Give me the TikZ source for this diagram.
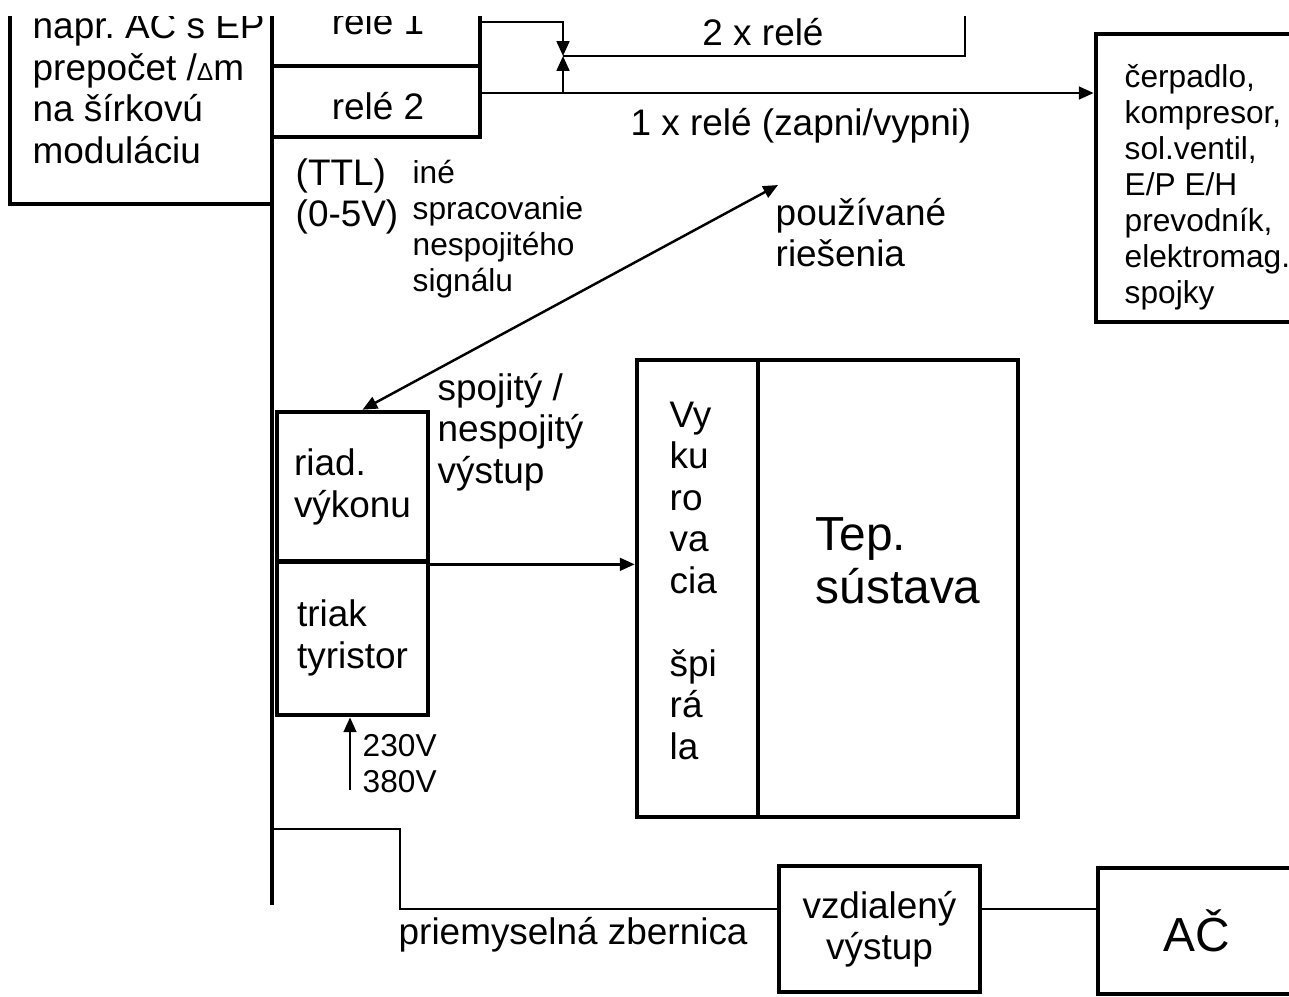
\documentclass[tikz,border=0pt]{standalone}
\usepackage{fontspec}
\setmainfont{Liberation Sans}
\usetikzlibrary{arrows.meta}
\frenchspacing
\newcommand{\fmain}{\fontsize{10.5}{11.8}\selectfont}
\newcommand{\fsmall}{\fontsize{9}{10.2}\selectfont}
\newcommand{\fbig}{\fontsize{13.6}{15}\selectfont}
\tikzset{
  box/.style={draw, line width=1.3pt, inner sep=0pt, font=\fmain, align=center},
  wire/.style={line width=0.7pt},
  arr/.style={wire, -{Triangle[length=4.2pt,width=3.6pt]}},
  darr/.style={wire, {Triangle[length=4.2pt,width=3.6pt]}-{Triangle[length=4.2pt,width=3.6pt]}},
  lbl/.style={inner sep=0pt, font=\fmain, align=left, anchor=base west},
}
\begin{document}
\begin{tikzpicture}[x=0.01cm, y=-0.01cm]
\useasboundingbox (0,0) rectangle (1289,996);
\clip (0,16) rectangle (1289,996);
% blocks
\node[box, minimum width=2.62cm, minimum height=2.34cm] (ctrl) at (141,87) {};
\node[box, minimum width=2.08cm, minimum height=0.88cm] (relayA) at (376,22) {};
\node[box, minimum width=2.08cm, minimum height=0.71cm] (relayB) at (376,101.5) {};
\node[box, minimum width=2.24cm, minimum height=2.88cm] (pump) at (1208,178) {};
\node[box, minimum width=1.51cm, minimum height=1.50cm, align=left] (power) at (352.5,487) {riad.\\výkonu};
\node[box, minimum width=1.51cm, minimum height=1.54cm, align=left] (triac) at (352.5,638) {triak\\tyristor};
\node[box, minimum width=1.21cm, minimum height=4.57cm] (heater) at (697.5,588.5) {};
\node[box, minimum width=2.60cm, minimum height=4.57cm] (plant) at (888,588.5) {};
\node[box, minimum width=2.01cm, minimum height=1.26cm] (remote) at (879.5,929) {vzdialený\\výstup};
\node[box, minimum width=1.98cm, minimum height=1.26cm, font=\fbig] (ac) at (1197,931) {AČ};
% texts (anchored at the baseline of the last line)
\node[lbl] (ctrltxt) at (32,163) {napr. AC s EP\\prepočet /{\fontsize{7}{8}\selectfont Δ}m\\na šírkovú\\moduláciu};
\node[lbl, anchor=base] (relayAtxt) at (378,34) {relé 1};
\node[lbl, anchor=base] (relayBtxt) at (378,119) {relé 2};
\node[lbl, font=\fsmall] (pumptxt) at (1124,303) {čerpadlo,\\kompresor,\\sol.ventil,\\E/P E/H\\prevodník,\\elektromag.\\spojky};
\node[lbl, anchor=base] (twotxt) at (763,45) {2 x relé};
\node[lbl, anchor=base] (onetxt) at (801,135) {1 x relé (zapni/vypni)};
\node[lbl] (ttl) at (295,226.5) {(TTL)\\(0-5V)};
\node[lbl, font=\fsmall] (other) at (412,291.5) {iné\\spracovanie\\nespojitého\\signálu};
\node[lbl] (used) at (775,266.5) {používané\\riešenia};
\node[lbl] (outtxt) at (437,483) {spojitý /\\nespojitý\\výstup};
\node[lbl] (heatertxt) at (669,759) {Vy\\ku\\ro\\va\\cia\\[11.8pt]špi\\rá\\la};
\node[lbl, font=\fbig] (planttxt) at (815,603) {Tep.\\sústava};
\node[lbl, font=\fsmall] (volt) at (362,792) {230V\\380V};
\node[lbl] (bustxt) at (398,944) {priemyselná zbernica};
% points
\coordinate (busTop) at (272,-30);
\coordinate (busBot) at (272,905);
\coordinate (busTap) at (272,829);
\coordinate (busDrop) at (400,909);
\coordinate (junc) at (563,56);
\coordinate (twoEnd) at (965,-30);
\coordinate (r2out) at (480,93);
\coordinate (solved) at (778,185);
\coordinate (mains) at (350,790);
% lines
\draw[line width=1.3pt] (busTop) -- (busBot);
\draw[arr] (relayA.east) -| (junc);
\draw[arr] (r2out) -- (r2out -| pump.west);
\draw[arr] (r2out -| junc) -- (junc);
\draw[wire] (junc) -| (twoEnd);
\draw[darr] ([xshift=0.1cm]power.north) -- (solved);
\draw[arr] (power.south east) -- (power.south east -| heater.west);
\draw[arr] (mains) -- (mains |- triac.south);
\draw[wire] (busTap) -| (busDrop) -- (busDrop -| remote.west);
\draw[wire] (busDrop -| remote.east) -- (busDrop -| ac.west);
\end{tikzpicture}
\end{document}
